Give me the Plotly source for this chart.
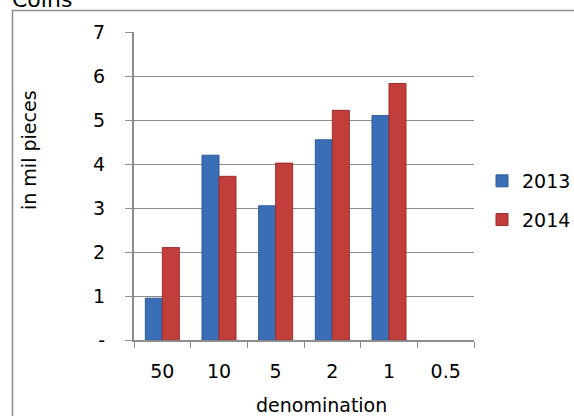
import plotly.graph_objects as go

categories = ["50", "10", "5", "2", "1", "0.5"]
values_2013 = [0.95, 4.2, 3.05, 4.55, 5.1, None]
values_2014 = [2.1, 3.72, 4.02, 5.22, 5.83, None]
y_ticks = [0, 1, 2, 3, 4, 5, 6, 7]
y_tick_labels = ["-", "1", "2", "3", "4", "5", "6", "7"]

W, H = 574, 416
L, R, T, B = 134, 474, 32, 340

def px(x):
    return (x - L) / (R - L)

def py(y):
    return (B - y) / (B - T)

FONT = "DejaVu Sans"
FS = 19

fig = go.Figure()
fig.add_trace(go.Bar(
    x=categories, y=values_2013, name="2013",
    marker=dict(color="#3A6FB8", line=dict(color="#2D5A96", width=1)),
    legendgroup="a",
))
fig.add_trace(go.Bar(
    x=categories, y=values_2014, name="2014",
    marker=dict(color="#C23E3A", line=dict(color="#9A2E2B", width=1)),
    legendgroup="b",
))

fig.update_layout(
    width=W, height=H,
    margin=dict(l=L, r=W - R, t=T, b=H - B, pad=0, autoexpand=False),
    paper_bgcolor="white", plot_bgcolor="white",
    font=dict(family=FONT, size=FS, color="black"),
    barmode="group", bargap=0.4, bargroupgap=0.0,
    showlegend=True,
    legend=dict(
        x=px(482), xanchor="left", y=py(162), yanchor="top",
        font=dict(family=FONT, size=FS, color="black"),
        traceorder="grouped", tracegroupgap=11,
        bgcolor="rgba(0,0,0,0)", itemclick=False,
    ),
    xaxis=dict(
        type="category", range=[-0.5, 5.5],
        showline=True, linecolor="#8C8C8C", linewidth=2,
        ticks="outside", tickson="boundaries", ticklen=6, tickcolor="#8C8C8C", tickwidth=1,
        showgrid=False, ticklabelstandoff=13,
        tickfont=dict(family=FONT, size=FS, color="black"),
    ),
    yaxis=dict(
        range=[0, 7], tickvals=y_ticks, ticktext=y_tick_labels,
        showline=True, linecolor="#8C8C8C", linewidth=2,
        ticks="outside", ticklen=7, tickcolor="#8C8C8C", tickwidth=1,
        showgrid=True, gridcolor="#8C8C8C", gridwidth=1,
        zeroline=False, ticklabelstandoff=16,
        tickfont=dict(family=FONT, size=FS, color="black"),
    ),
    shapes=[dict(
        type="rect", xref="paper", yref="paper",
        x0=px(12.5), x1=px(580), y0=py(10.5), y1=py(430),
        line=dict(color="#8C8C8C", width=1.5), fillcolor="rgba(0,0,0,0)", layer="below",
    )],
    annotations=[
        dict(text="Coins", xref="paper", yref="paper", x=px(10), y=py(14),
             xanchor="left", yanchor="bottom", showarrow=False,
             font=dict(family=FONT, size=22, color="black")),
        dict(text="in mil pieces", xref="paper", yref="paper", x=px(29), y=py(150),
             xanchor="center", yanchor="middle", textangle=-90, showarrow=False,
             font=dict(family=FONT, size=FS, color="black")),
        dict(text="denomination", xref="paper", yref="paper", x=px(321), y=py(405),
             xanchor="center", yanchor="middle", showarrow=False,
             font=dict(family=FONT, size=FS, color="black")),
    ],
)

fig.write_html(
    "out.html",
    config={"displayModeBar": False},
    post_script="document.body.style.margin='0';document.body.style.overflow='hidden';",
)
